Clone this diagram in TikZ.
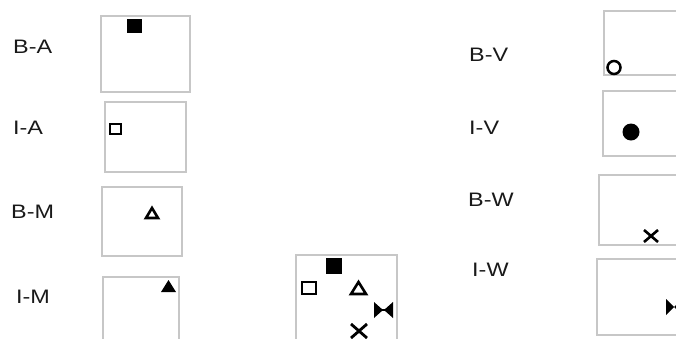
\documentclass[tikz,border=0pt]{standalone}
\usepackage{fontspec}
\setmainfont{Liberation Sans}
\begin{document}
\begin{tikzpicture}[x=1pt,y=-1pt,
  panel/.style={draw=black!22,line width=1.5pt},
  lab/.style={anchor=west,inner sep=0pt,text=black!90,font=\fontsize{19.5}{19.5}\selectfont},
  hollow/.style={draw=black,line width=2.6pt,fill=white},
  solid/.style={fill=black}]
\useasboundingbox (0,0) rectangle (676,338);
\clip (0,0) rectangle (676,338);
% panels
\draw[panel] (101,16) rectangle (190,92);
\draw[panel] (105,102) rectangle (186,172);
\draw[panel] (102,187) rectangle (182,256);
\draw[panel] (103,277) rectangle (179,350);
\draw[panel] (296,255) rectangle (397,350);
\draw[panel] (604,11) rectangle (700,75);
\draw[panel] (603,91) rectangle (700,156);
\draw[panel] (599,175) rectangle (700,245);
\draw[panel] (597,259) rectangle (700,335);
% labels
\node[lab] (ba) at (13,47) {\scalebox{1.2}[1]{B-A}};
\node[lab] (ia) at (13,128) {\scalebox{1.2}[1]{I-A}};
\node[lab] (bm) at (11,212) {\scalebox{1.2}[1]{B-M}};
\node[lab] (im) at (16,297) {\scalebox{1.2}[1]{I-M}};
\node[lab] (bv) at (469,55) {\scalebox{1.2}[1]{B-V}};
\node[lab] (iv) at (469,128) {\scalebox{1.2}[1]{I-V}};
\node[lab] (bw) at (468,200) {\scalebox{1.2}[1]{B-W}};
\node[lab] (iw) at (472,270) {\scalebox{1.2}[1]{I-W}};
% B-A filled square
\fill (127,19) rectangle (142,33);
% I-A hollow square
\draw[hollow] (110,124) rectangle (121,134);
% B-M hollow triangle
\draw[hollow,line join=miter] (146,218) -- (152,208) -- (158,218) -- cycle;
% I-M filled triangle
\fill (161,292) -- (168.5,280) -- (176,292) -- cycle;
% center panel
\fill (326,258) rectangle (342,274);
\draw[hollow] (302,282) rectangle (316,294);
\draw[hollow,line join=miter] (351,294) -- (358.5,282) -- (366,294) -- cycle;
\fill (374,302) -- (383,310) -- (374,318) -- cycle;
\fill (393,302) -- (384,310) -- (393,318) -- cycle;
\fill (382,309) rectangle (385,311);
\draw[line width=2.8pt] (351,324) -- (367,338) (351,338) -- (367,324);
% B-V hollow circle
\draw[line width=2.5pt] (614,67.5) circle (6.5);
% I-V filled circle
\fill (631,132) circle (8.5);
% B-W cross
\draw[line width=2.6pt] (644,230) -- (658,242) (644,242) -- (658,230);
% I-W bowtie (clipped)
\fill (666,299) -- (674,307) -- (666,315) -- cycle;
\fill (682,299) -- (674,307) -- (682,315) -- cycle;
\end{tikzpicture}
\end{document}
